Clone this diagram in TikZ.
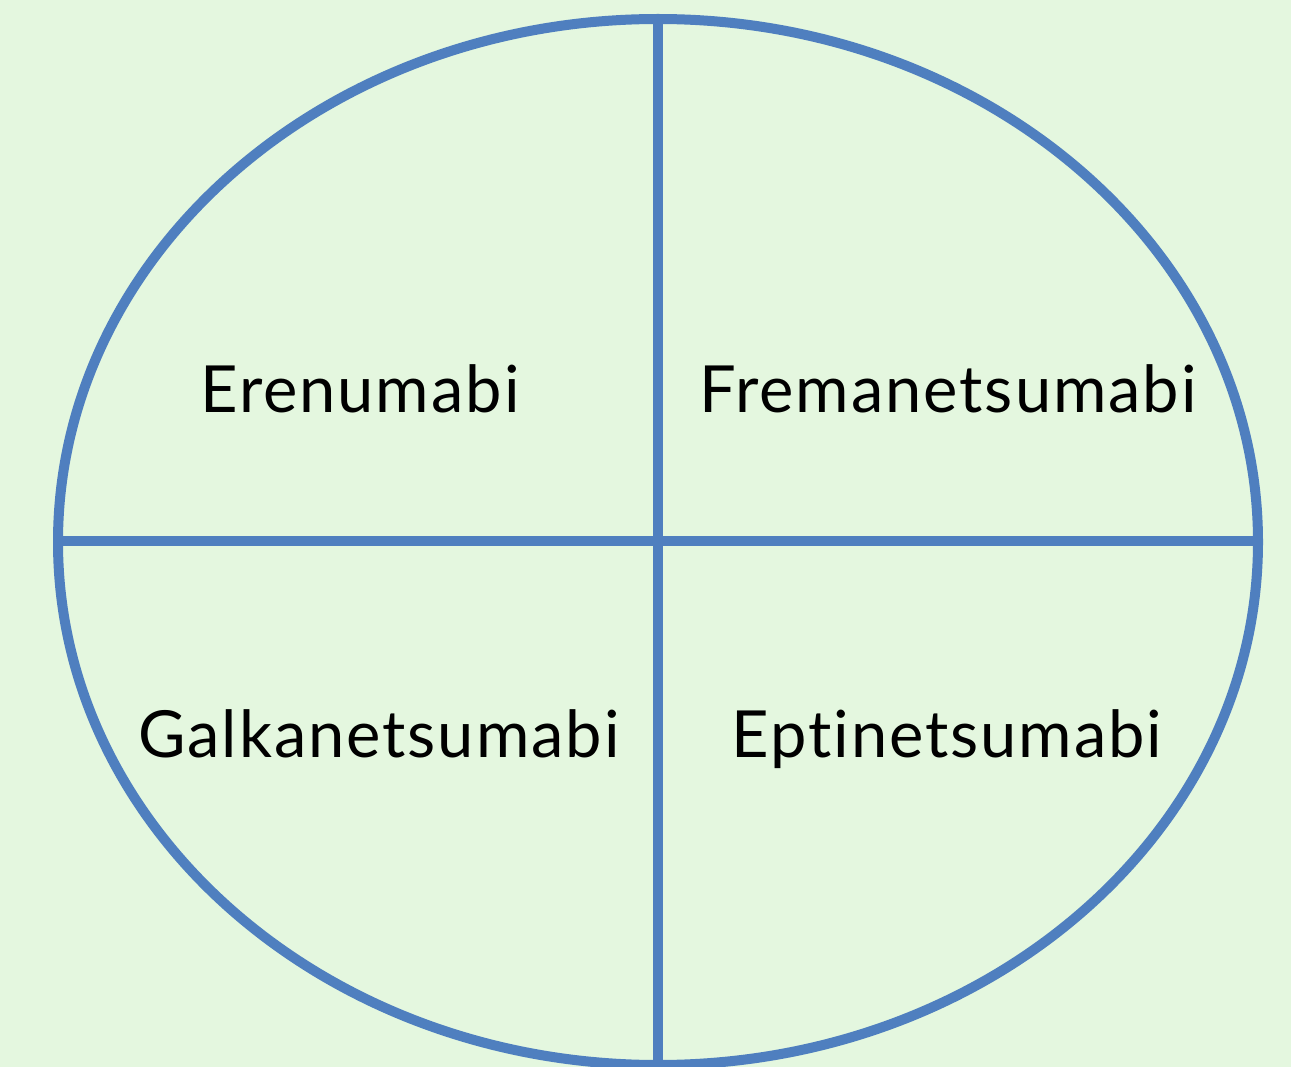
\documentclass[tikz,border=0pt]{standalone}
\usepackage{fontspec}
\setmainfont{Lato}[Ligatures={NoCommon},LetterSpace=3]
\definecolor{bgc}{HTML}{E4F7DF}
\definecolor{linec}{HTML}{4F7FBF}
\begin{document}
\begin{tikzpicture}[x=1pt,y=-1pt,
  divline/.style={draw=linec,line width=10pt},
  lbl/.style={anchor=base,font=\fontsize{65}{78}\selectfont,inner sep=0pt}]
\useasboundingbox (0,0) rectangle (1291,1067);
\fill[bgc] (0,0) rectangle (1291,1067);
\clip (0,0) rectangle (1291,1067);
\coordinate (c) at (658,542);
\coordinate (top) at (658,19);
\coordinate (bot) at (658,1067);
\coordinate (lft) at (58,541);
\coordinate (rgt) at (1258,541);
\draw[divline] (c) ellipse [x radius=600, y radius=523];
\draw[divline] (top) -- (bot);
\draw[divline] (lft) -- (rgt);
\node[lbl] (e) at (360,413) {Erenumabi};
\node[lbl] (f) at (948,413) {Fremanetsumabi};
\node[lbl] (g) at (379,757) {Galkanetsumabi};
\node[lbl] (p) at (947,757) {Eptinetsumabi};
\end{tikzpicture}
\end{document}
